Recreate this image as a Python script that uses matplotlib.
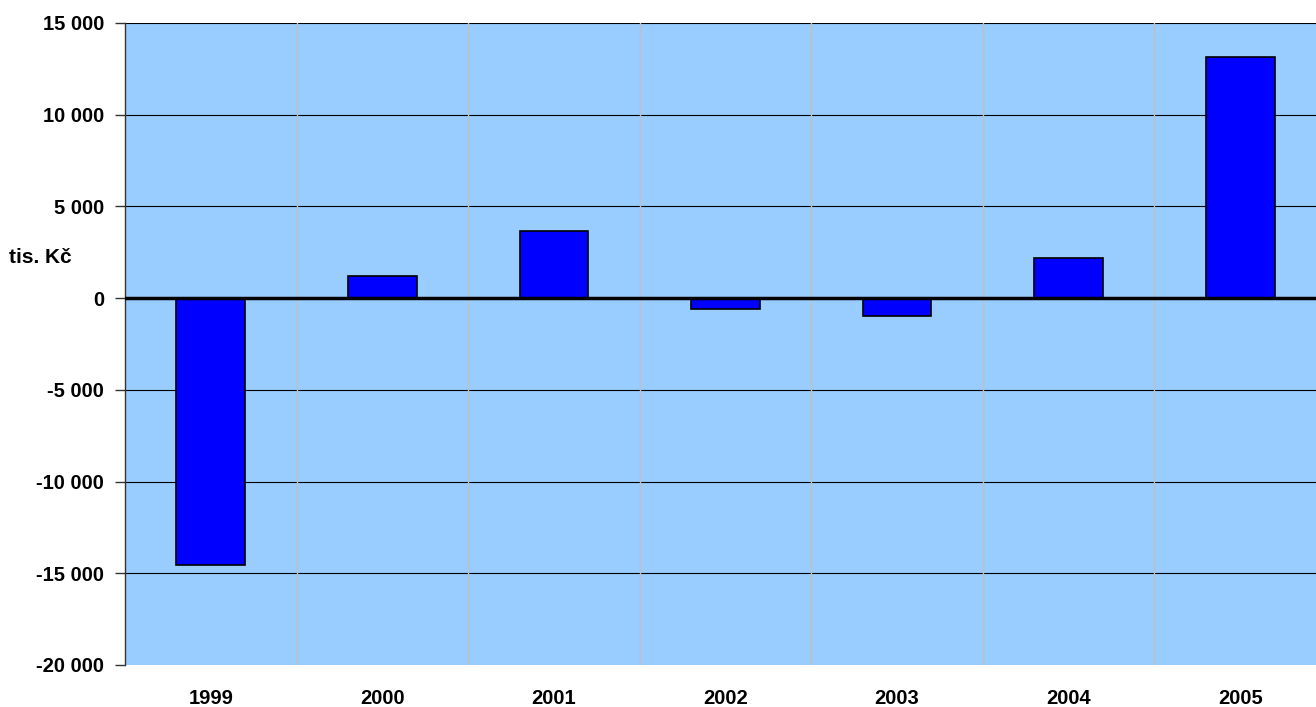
import matplotlib
matplotlib.use("Agg")
import matplotlib.pyplot as plt

years = ["1999", "2000", "2001", "2002", "2003", "2004", "2005"]
values = [-14550, 1200, 3650, -600, -980, 2200, 13150]
yticks = [-20000, -15000, -10000, -5000, 0, 5000, 10000, 15000]
ytick_labels = ["-20 000", "-15 000", "-10 000", "-5 000", "0", "5 000", "10 000", "15 000"]

plt.rcParams['font.family'] = ['Liberation Sans', 'DejaVu Sans']

fig = plt.figure(figsize=(13.16, 7.07), dpi=100)
ax = fig.add_axes([125/1316, 42/707, 1201/1316, 642/707])
ax.set_facecolor('#99ccff')

x = list(range(len(years)))
ax.bar(x, values, width=0.40, color='#0000ff', edgecolor='black', linewidth=1.2, zorder=3)

ax.set_xlim(-0.5, len(years) - 0.5)
ax.set_ylim(-20000, 15000)
ax.set_yticks(yticks)
ax.set_yticklabels(ytick_labels, fontsize=14.5, fontweight='bold')
ax.set_xticks(x)
ax.set_xticklabels(years, fontsize=14.5, fontweight='bold')
ax.tick_params(axis='x', length=0, pad=17)
ax.tick_params(axis='y', length=7, width=1, color='#333333', pad=8)

for yv in yticks:
    if yv not in (0, -20000):
        ax.axhline(yv, color='black', linewidth=0.8, zorder=1)
ax.axhline(0, color='black', linewidth=2.5, zorder=4)

for b in [i + 0.5 for i in x[:-1]]:
    ax.axvline(b, color='#c0c0c0', linewidth=1, zorder=1)

for s in ['top', 'right', 'bottom']:
    ax.spines[s].set_visible(False)
ax.spines['left'].set_color('#333333')
ax.spines['left'].set_linewidth(1)

fig.text(9/1316, 1 - 258/707, "tis. Kč", fontsize=15, fontweight='bold', va='center', ha='left')

fig.savefig("out.png", dpi=100)
